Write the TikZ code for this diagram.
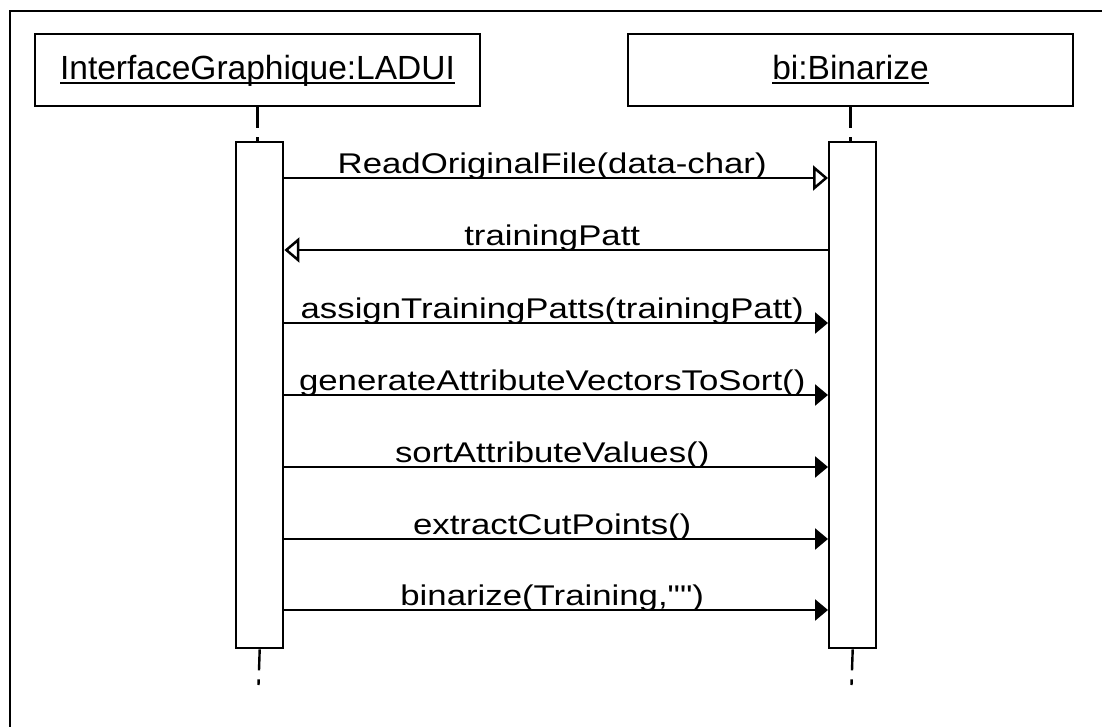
\documentclass[tikz,border=0pt]{standalone}
\usepackage{fontspec}
\setmainfont{Liberation Sans}
\newfontfamily\msgfont[FakeStretch=1.22]{Liberation Sans}
\usetikzlibrary{arrows.meta,calc}
\newcommand\myul[1]{\setbox0\hbox{#1}\rlap{\rule[-4pt]{\wd0}{2pt}}\box0}
\tikzset{
  lbox/.style={draw, line width=2.4pt, minimum width=445pt, minimum height=72pt, inner sep=0pt,
    text height=20pt, text depth=0pt, font=\fontsize{33.5}{40}\selectfont},
  actbox/.style={draw, line width=2.4pt, fill=white, minimum width=47pt, minimum height=506pt,
    anchor=north west, inner sep=0pt},
  life/.style={line width=2.4pt, dash pattern=on 21pt off 9pt},
  frame/.style={line width=2.4pt},
  msgsync/.style={line width=2.5pt, -{Triangle[length=13pt,width=21pt]}},
  msgopen/.style={line width=2.5pt, -{Triangle[open,length=15pt,width=25pt,fill=white]}},
  lbl/.style={font=\msgfont\fontsize{28.5}{34}\selectfont, anchor=base, inner sep=0pt, midway, yshift=4.5pt, xshift=-4pt}
}
\begin{document}
\begin{tikzpicture}[x=1pt,y=-1pt]
\useasboundingbox (0,0) rectangle (1102,727);
\fill[white] (0,0) rectangle (1102,727);
% frame (left and top edges visible)
\coordinate (fbl) at (10,727);
\coordinate (ftl) at (10,11);
\coordinate (ftr) at (1102,11);
\draw[frame] (fbl) -- (ftl) -- (ftr);
% lifeline heads
\node[lbox] (L) at (257.5,70) {\myul{InterfaceGraphique:LADUI}};
\node[lbox] (R) at (850.5,70) {\myul{bi:Binarize}};
% activations
\node[actbox] (actL) at (235,141) {};
\node[actbox] (actR) at (828,141) {};
% lifelines
\coordinate (Lend) at (258.5,685);
\coordinate (Rend) at (851.5,685);
\draw[life] (L.south) -- (L.south |- actL.north);
\draw[life] (R.south) -- (R.south |- actR.north);
\draw[life] (actL.south) -- (Lend);
\draw[life] (actR.south) -- (Rend);
% message levels
\coordinate (y1) at (0,178);
\coordinate (y2) at (0,250);
\coordinate (y3) at (0,323);
\coordinate (y4) at (0,395);
\coordinate (y5) at (0,467);
\coordinate (y6) at (0,539);
\coordinate (y7) at (0,610);
\draw[msgopen] (actL.east |- y1) -- node[lbl] {ReadOriginalFile(data-char)} (actR.west |- y1);
\draw[msgopen] (actR.west |- y2) -- node[lbl] {trainingPatt} (actL.east |- y2);
\draw[msgsync] (actL.east |- y3) -- node[lbl] {assignTrainingPatts(trainingPatt)} (actR.west |- y3);
\draw[msgsync] (actL.east |- y4) -- node[lbl] {generateAttributeVectorsToSort()} (actR.west |- y4);
\draw[msgsync] (actL.east |- y5) -- node[lbl] {sortAttributeValues()} (actR.west |- y5);
\draw[msgsync] (actL.east |- y6) -- node[lbl] {extractCutPoints()} (actR.west |- y6);
\draw[msgsync] (actL.east |- y7) -- node[lbl] {binarize(Training,\symbol{34}\symbol{34})} (actR.west |- y7);
\end{tikzpicture}
\end{document}
